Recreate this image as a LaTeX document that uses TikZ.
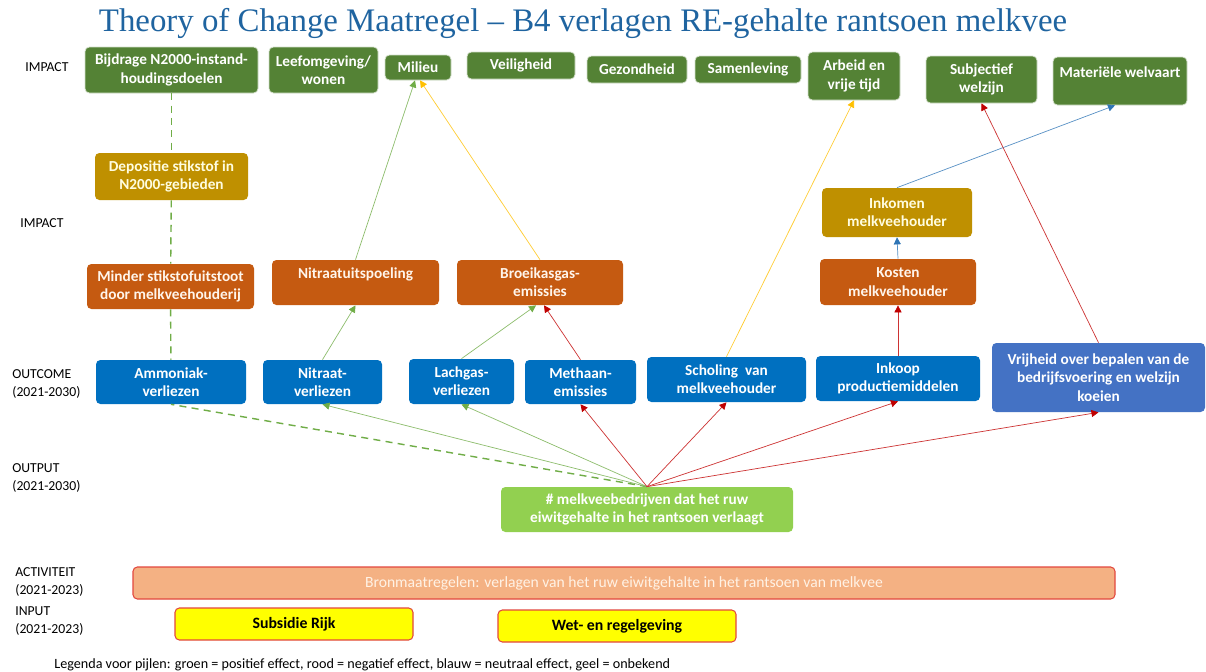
\documentclass[tikz,border=0pt]{standalone}
\usepackage{fontspec}
\setmainfont{Carlito}
\newfontfamily\titelfont{Liberation Serif}
\usepackage{tikz}
\usetikzlibrary{arrows.meta}
\definecolor{donkergroen}{RGB}{84,130,53}
\definecolor{goud}{RGB}{191,144,0}
\definecolor{oranje}{RGB}{197,90,17}
\definecolor{blauw}{RGB}{0,112,192}
\definecolor{blauwtwee}{RGB}{68,114,196}
\definecolor{lichtgroen}{RGB}{146,208,80}
\definecolor{zalm}{RGB}{244,177,131}
\definecolor{geel}{RGB}{255,255,0}
\definecolor{randrood}{RGB}{226,72,62}
\definecolor{titelblauw}{RGB}{31,100,160}
\definecolor{lijngroen}{RGB}{112,173,71}
\definecolor{lijnrood}{RGB}{192,0,0}
\definecolor{lijnblauw}{RGB}{46,117,182}
\definecolor{lijngeel}{RGB}{255,192,0}
\tikzstyle{blok}=[rectangle, rounded corners=2.5pt, align=center, inner sep=1pt, text=white, font=\fontsize{8.7}{10.4}\selectfont\bfseries]
\tikzstyle{impact}=[blok, fill=donkergroen, draw=white!75!donkergroen, line width=0.4pt]
\tikzstyle{tussen}=[blok, fill=goud, text=yellow!12!white]
\tikzstyle{effect}=[blok, fill=oranje, text=orange!8!white]
\tikzstyle{uitkomst}=[blok, fill=blauw]
\tikzstyle{uitvoer}=[blok, fill=lichtgroen]
\tikzstyle{activiteit}=[blok, fill=zalm, draw=randrood, line width=0.6pt, text=orange!10!white, font=\fontsize{8.9}{10}\selectfont]
\tikzstyle{invoer}=[blok, fill=geel, draw=randrood, line width=0.6pt, text=black, font=\fontsize{9}{11}\selectfont\bfseries]
\tikzstyle{lbl}=[anchor=west, align=left, inner sep=0pt, font=\fontsize{7.8}{10}\selectfont]
\tikzstyle{pijlgroen}=[draw=lijngroen!80!white, line width=0.4pt, -{Triangle[length=4pt,width=4pt,color=lijngroen]}]
\tikzstyle{pijlrood}=[draw=lijnrood!80!white, line width=0.4pt, -{Triangle[length=4pt,width=4pt,color=lijnrood]}]
\tikzstyle{pijlblauw}=[draw=lijnblauw!80!white, line width=0.4pt, -{Triangle[length=4pt,width=4pt,color=lijnblauw]}]
\tikzstyle{pijlgeel}=[draw=lijngeel!80!white, line width=0.4pt, -{Triangle[length=4pt,width=4pt,color=lijngeel]}]
\tikzstyle{streep}=[draw=lijngroen, line width=0.8pt, dash pattern=on 4pt off 3pt]
\tikzset{wh/.style 2 args={minimum width=#1*0.2mm, minimum height=#2*0.2mm}}

\begin{document}
\begin{tikzpicture}[x=0.2mm, y=-0.2mm]
	\fill[white] (0,0) rectangle (1206,672);
	\node[text=titelblauw, font=\titelfont\fontsize{18.7}{22}\selectfont] at (583,23) (titel) {Theory of Change Maatregel – B4 verlagen RE-gehalte rantsoen melkvee};
	% labels links
	\node[lbl] at (25,67) (limpact) {IMPACT};
	\node[lbl] at (20,223) (limpacttwee) {IMPACT};
	\node[lbl] at (12,384) (loutcome) {OUTCOME\\(2021-2030)};
	\node[lbl] at (12,478) (loutput) {OUTPUT\\(2021-2030)};
	\node[lbl] at (15,582) (lactiviteit) {ACTIVITEIT\\(2021-2023)};
	\node[lbl] at (15,621) (linput) {INPUT\\(2021-2023)};
	\node[lbl, font=\fontsize{8.05}{10}\selectfont] at (54,665) (legenda) {Legenda voor pijlen: groen = positief effect, rood = negatief effect, blauw = neutraal effect, geel = onbekend};
	% impact bovenaan
	\node[impact, wh={173}{46}] at (171.5,70) (bijdrage) {Bijdrage N2000-instand-\\houdingsdoelen};
	\node[impact, wh={109}{46}] at (323.5,70) (leefomgeving) {Leefomgeving/\\wonen};
	\node[impact, wh={66}{25}] at (418,67.5) (milieu) {Milieu};
	\node[impact, wh={108}{27}] at (521,65.5) (veiligheid) {Veiligheid};
	\node[impact, wh={100}{27}] at (637,69.5) (gezondheid) {Gezondheid};
	\node[impact, wh={106}{27}] at (748,69.5) (samenleving) {Samenleving};
	\node[impact, wh={92}{48}] at (854,76) (arbeid) {Arbeid en\\vrije tijd};
	\node[impact, wh={111}{47}] at (981.5,79.5) (subjectief) {Subjectief\\welzijn};
	\node[impact, wh={134}{48}] at (1120,81) (welvaart) {Materiële welvaart\\\mbox{}};
	% tussenliggende effecten
	\node[tussen, wh={153}{47}] at (171.5,176.5) (depositie) {Depositie stikstof in\\N2000-gebieden};
	\node[tussen, wh={150}{49}] at (897,212.5) (inkomen) {Inkomen\\melkveehouder};
	\node[effect, wh={167}{45}] at (170.5,286.5) (minder) {Minder stikstofuitstoot\\door melkveehouderij};
	\node[effect, wh={167}{45}] at (355.5,282.5) (uitspoeling) {Nitraatuitspoeling\\\mbox{}};
	\node[effect, wh={166}{45}] at (540,282.5) (broeikas) {Broeikasgas-\\emissies};
	\node[effect, wh={156}{46}] at (898,282) (kosten) {Kosten\\melkveehouder};
	% outcome
	\node[uitkomst, wh={150}{44}] at (171,382) (ammoniak) {Ammoniak-\\verliezen};
	\node[uitkomst, wh={119}{44}] at (322.5,382) (nitraat) {Nitraat-\\verliezen};
	\node[uitkomst, wh={105}{45}] at (461.5,381.5) (lachgas) {Lachgas-\\verliezen};
	\node[uitkomst, wh={111}{44}] at (580.5,382) (methaan) {Methaan-\\emissies};
	\node[uitkomst, wh={159}{45}] at (726.5,379.5) (scholing) {Scholing\ \ van\\melkveehouder};
	\node[uitkomst, wh={164}{45}] at (898,378.5) (inkoop) {Inkoop\\productiemiddelen};
	\node[uitkomst, fill=blauwtwee, wh={213}{69}] at (1098.5,377.5) (vrijheid) {Vrijheid over bepalen van de\\bedrijfsvoering en welzijn\\koeien};
	% output, activiteit, input
	\node[uitvoer, wh={292}{45}] at (647,509.5) (melkvee) {\# melkveebedrijven dat het ruw\\eiwitgehalte in het rantsoen verlaagt};
	\node[activiteit, wh={982}{32}] at (624,583) (bron) {Bronmaatregelen: verlagen van het ruw eiwitgehalte in het rantsoen van melkvee};
	\node[invoer, wh={238}{32}] at (294,624) (subsidie) {Subsidie Rijk};
	\node[invoer, wh={238}{32}] at (617,626) (wetgeving) {Wet- en regelgeving};
	% pijlen
	\path[streep] (bijdrage) edge (depositie) (depositie) edge (minder) (minder) edge (ammoniak);
	\draw[streep] (melkvee.north) -- (ammoniak.south);
	\draw[pijlgroen] (melkvee.north) -- (nitraat.south);
	\draw[pijlgroen] (melkvee.north) -- (lachgas.south);
	\draw[pijlrood] (melkvee.north) -- (methaan.south);
	\draw[pijlrood] (melkvee.north) -- (scholing.south);
	\draw[pijlrood] (melkvee.north) -- (inkoop.south);
	\draw[pijlrood] (melkvee.north) -- (vrijheid.south);
	\draw[pijlgroen] (nitraat.north) -- (uitspoeling.south);
	\draw[pijlgroen] (lachgas.north) -- ([xshift=-0.8mm]broeikas.south);
	\draw[pijlrood] (methaan.north) -- ([xshift=0.8mm]broeikas.south);
	\draw[pijlgroen] (uitspoeling.north) -- ([xshift=-0.6mm]milieu.south);
	\draw[pijlgeel] (broeikas.north) -- ([xshift=0.4mm]milieu.south);
	\draw[pijlgeel] (scholing.north) -- (arbeid.south);
	\draw[pijlrood] (inkoop.north) -- (kosten.south);
	\draw[pijlblauw] (kosten.north) -- (inkomen.south);
	\draw[pijlblauw] (inkomen.north) -- ([xshift=-1mm]welvaart.south);
	\draw[pijlrood] (vrijheid.north) -- (subjectief.south);
\end{tikzpicture}
\end{document}
